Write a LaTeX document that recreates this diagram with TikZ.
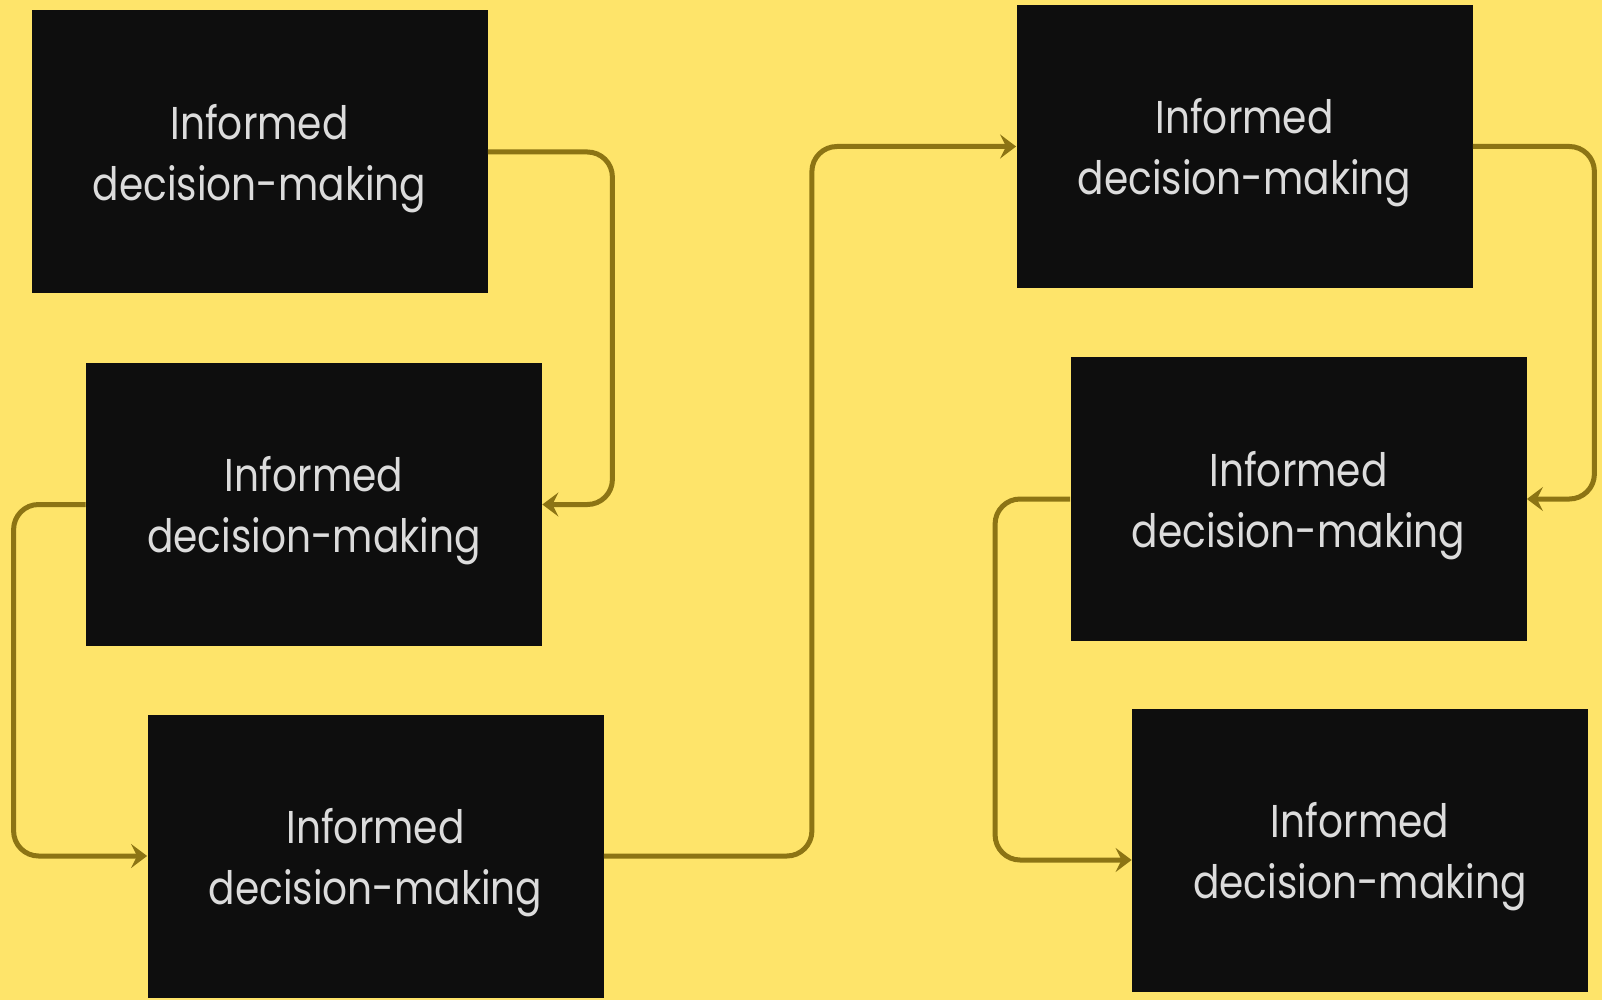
\documentclass[tikz,border=0pt]{standalone}
\usepackage{fontspec}
\newfontfamily\boxfont{Poppins}[FakeStretch=0.85]
\usetikzlibrary{arrows.meta}
\definecolor{bgyellow}{HTML}{FEE46A}
\definecolor{boxblack}{HTML}{0E0E0E}
\definecolor{boxtext}{HTML}{DCDCDC}
\definecolor{connolive}{HTML}{8C7414}
\tikzset{
  dbox/.style={rectangle, fill=boxblack, draw=none, minimum width=228pt, minimum height=141.5pt,
    inner sep=0pt, align=center, text=boxtext, text depth=0pt,
    font=\boxfont\fontsize{23pt}{30.5pt}\selectfont},
  conn/.style={draw=connolive, line width=2.5pt, rounded corners=12.5pt,
    -{Stealth[length=8pt,width=12pt,inset=3pt]}}
}
\begin{document}
\begin{tikzpicture}[x=0.5pt,y=-0.5pt]
\fill[bgyellow] (0,0) rectangle (1602,1000);
\useasboundingbox (0,0) rectangle (1602,1000);
\node[dbox] (b1) at (259.5,152) {Informed\\decision-making};
\node[dbox] (b2) at (314,504.5) {Informed\\decision-making};
\node[dbox] (b3) at (375.5,856) {Informed\\decision-making};
\node[dbox] (b4) at (1244.5,146.5) {Informed\\decision-making};
\node[dbox] (b5) at (1298.5,499) {Informed\\decision-making};
\node[dbox] (b6) at (1360,850.5) {Informed\\decision-making};
\draw[conn] (b1.east) -- ++(124.5,0) |- (b2.east);
\draw[conn] (b2.west) -- ++(-72,0) |- (b3.west);
\draw[conn] (b3.east) -- ++(208,0) |- (b4.west);
\draw[conn] (b4.east) -- ++(121.5,0) |- (b5.east);
\draw[conn] (b5.west) -- ++(-75,0) |- ([yshift=-4.75pt]b6.west);
\end{tikzpicture}
\end{document}
